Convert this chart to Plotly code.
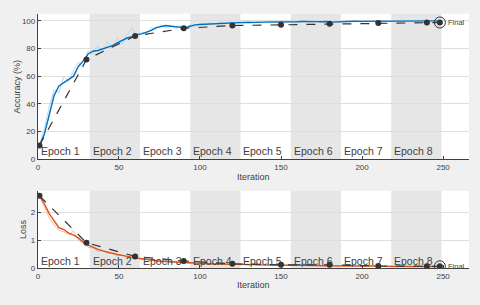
import plotly.graph_objects as go

# ---------------- data ----------------
iters = [1, 4, 7, 10, 13, 16, 19, 22, 25, 28, 31, 34, 37, 40, 43, 46, 49, 52, 55, 58,
         61, 64, 67, 70, 73, 76, 79, 82, 85, 88, 91, 94, 97, 100, 103, 106, 109, 112, 115, 118,
         121, 124, 127, 130, 133, 136, 139, 142, 145, 148, 151, 154, 157, 160, 163, 166, 169, 172, 175, 178,
         181, 184, 187, 190, 193, 196, 199, 202, 205, 208, 211, 214, 217, 220, 223, 226, 229, 232, 235, 238,
         241, 244, 247, 248]

acc_smooth = [10, 18, 32, 46, 53, 55.5, 58, 60, 67, 71, 76, 78, 78.5, 79.5, 81, 82, 84, 86, 87.5, 88.5,
              90, 90.5, 91.5, 93, 95, 96, 96.5, 96, 95.5, 95, 95, 96, 97, 97.3, 97.5, 97.5, 98, 98, 98.5, 98.5,
              98.7, 98.6, 98.8, 98.7, 99, 98.8, 99, 99, 99.2, 98.8, 99, 99.2, 99.3, 99.2, 99.4, 99.5, 99.4, 99.3, 99.2, 99.4,
              99, 99.2, 99.3, 99.4, 99.5, 99.6, 99.5, 99.5, 99.6, 99.7, 99.6, 99.6, 99.7, 99.7, 99.8, 99.7, 99.8, 99.8, 99.8, 99.8,
              99.9, 99.9, 99.9, 99.9]

acc_raw = [10, 22, 38, 50, 48, 60, 56, 64, 70, 66, 78, 76, 82, 77, 85, 80, 87, 83, 90, 95,
           88, 92, 90, 95, 94, 97, 95, 97, 94, 96, 94, 97, 96, 98, 97, 98.5, 97.5, 99, 98, 99,
           98, 99, 98.5, 99.5, 98.5, 99.5, 98.5, 99.5, 99, 98.5, 99.5, 99, 100, 99, 100, 99.5, 99, 99.5, 99, 100,
           98.5, 99.5, 99, 100, 99.5, 100, 99, 100, 99.5, 100, 99.5, 100, 99.5, 100, 100, 99.5, 100, 100, 99.5, 100,
           100, 100, 100, 100]

loss_smooth = [2.58, 2.3, 1.95, 1.68, 1.45, 1.38, 1.25, 1.18, 1.08, 0.93, 0.82, 0.75, 0.67, 0.62, 0.57, 0.53, 0.49, 0.46, 0.42, 0.39,
               0.36, 0.34, 0.31, 0.29, 0.27, 0.25, 0.24, 0.23, 0.21, 0.2, 0.19, 0.18, 0.17, 0.17, 0.16, 0.16, 0.15, 0.15, 0.15, 0.14,
               0.14, 0.14, 0.13, 0.13, 0.13, 0.12, 0.12, 0.12, 0.12, 0.11, 0.11, 0.11, 0.11, 0.1, 0.1, 0.1, 0.1, 0.1, 0.09, 0.09,
               0.1, 0.09, 0.09, 0.09, 0.08, 0.08, 0.08, 0.08, 0.08, 0.08, 0.07, 0.07, 0.07, 0.07, 0.07, 0.07, 0.06, 0.06, 0.06, 0.06,
               0.06, 0.06, 0.06, 0.06]

loss_raw = [2.58, 2.2, 1.8, 1.55, 1.35, 1.3, 1.2, 1.32, 1.0, 0.9, 0.75, 0.72, 0.6, 0.64, 0.52, 0.55, 0.45, 0.48, 0.38, 0.36,
            0.38, 0.3, 0.33, 0.26, 0.28, 0.22, 0.26, 0.2, 0.23, 0.18, 0.21, 0.16, 0.18, 0.15, 0.17, 0.14, 0.16, 0.13, 0.16, 0.12,
            0.15, 0.12, 0.14, 0.11, 0.14, 0.11, 0.13, 0.1, 0.13, 0.1, 0.12, 0.1, 0.12, 0.09, 0.11, 0.09, 0.11, 0.09, 0.1, 0.08,
            0.11, 0.08, 0.1, 0.08, 0.09, 0.07, 0.09, 0.07, 0.09, 0.07, 0.08, 0.06, 0.08, 0.06, 0.08, 0.06, 0.07, 0.05, 0.07, 0.05,
            0.07, 0.05, 0.06, 0.06]

val_iters = [1, 30, 60, 90, 120, 150, 180, 210, 240, 248]
val_acc = [10, 72, 89, 94.5, 96.5, 97, 97.8, 98.4, 98.7, 98.7]
val_loss = [2.58, 0.91, 0.42, 0.26, 0.16, 0.12, 0.12, 0.08, 0.07, 0.07]

epoch_starts = [0, 32, 63, 94, 125, 156, 187, 218]
epoch_ends = [32, 63, 94, 125, 156, 187, 218, 249]
epoch_labels = ["Epoch 1", "Epoch 2", "Epoch 3", "Epoch 4", "Epoch 5", "Epoch 6", "Epoch 7", "Epoch 8"]

final_iter = 248
final_label = "Final"

# ---------------- figure ----------------
FONT = "Liberation Sans, Arial, sans-serif"
TXT = "#404040"
BLUE = "#0072BD"
ORANGE = "#D95319"
DARK = "#333333"

fig = go.Figure()

# accuracy
fig.add_trace(go.Scatter(x=iters, y=acc_raw, mode="lines", line=dict(color="#B9D7EE", width=1),
                         xaxis="x", yaxis="y", hoverinfo="skip"))
fig.add_trace(go.Scatter(x=iters, y=acc_smooth, mode="lines", line=dict(color=BLUE, width=1.4),
                         xaxis="x", yaxis="y"))
fig.add_trace(go.Scatter(x=val_iters, y=val_acc, mode="lines+markers",
                         line=dict(color=DARK, width=1.2, dash="dash"),
                         marker=dict(color=DARK, size=6), xaxis="x", yaxis="y"))
fig.add_trace(go.Scatter(x=[final_iter], y=[val_acc[-1]], mode="markers",
                         marker=dict(symbol="circle-open", color=DARK, size=11, line=dict(width=1)),
                         xaxis="x", yaxis="y"))

# loss
fig.add_trace(go.Scatter(x=iters, y=loss_raw, mode="lines", line=dict(color="#F2B9A0", width=1),
                         xaxis="x2", yaxis="y2", hoverinfo="skip"))
fig.add_trace(go.Scatter(x=iters, y=loss_smooth, mode="lines", line=dict(color=ORANGE, width=1.4),
                         xaxis="x2", yaxis="y2"))
fig.add_trace(go.Scatter(x=val_iters, y=val_loss, mode="lines+markers",
                         line=dict(color=DARK, width=1.2, dash="dash"),
                         marker=dict(color=DARK, size=6), xaxis="x2", yaxis="y2"))
fig.add_trace(go.Scatter(x=[final_iter], y=[val_loss[-1]], mode="markers",
                         marker=dict(symbol="circle-open", color=DARK, size=11, line=dict(width=1)),
                         xaxis="x2", yaxis="y2"))

shapes = []
annotations = []
for i, (s, e, lab) in enumerate(zip(epoch_starts, epoch_ends, epoch_labels)):
    if i % 2 == 1:
        for xr, yr in (("x", "y domain"), ("x2", "y2 domain")):
            shapes.append(dict(type="rect", xref=xr, yref=yr, x0=s, x1=e, y0=0, y1=1,
                               fillcolor="#E6E6E6", line=dict(width=0), layer="below"))
    annotations.append(dict(x=s, y=0.06, xref="x", yref="y domain", text=lab, showarrow=False,
                            xanchor="left", yanchor="middle", xshift=1,
                            font=dict(family=FONT, size=10.5, color=TXT)))
    annotations.append(dict(x=s, y=0.09, xref="x2", yref="y2 domain", text=lab, showarrow=False,
                            xanchor="left", yanchor="middle", xshift=1,
                            font=dict(family=FONT, size=10.5, color=TXT)))

annotations.append(dict(x=final_iter, y=val_acc[-1], xref="x", yref="y", text=final_label, showarrow=False,
                        xanchor="left", yanchor="middle", xshift=6,
                        font=dict(family=FONT, size=7.5, color=TXT)))
annotations.append(dict(x=final_iter, y=val_loss[-1], xref="x2", yref="y2", text=final_label, showarrow=False,
                        xanchor="left", yanchor="middle", xshift=6,
                        font=dict(family=FONT, size=7.5, color=TXT)))

# axis titles
annotations.append(dict(x=15 / 480, y=(305 - 88) / 305, xref="paper", yref="paper", text="Accuracy (%)",
                        textangle=-90, showarrow=False, xanchor="center", yanchor="middle",
                        font=dict(family=FONT, size=9, color=TXT)))
annotations.append(dict(x=21 / 480, y=(305 - 233) / 305, xref="paper", yref="paper", text="Loss",
                        textangle=-90, showarrow=False, xanchor="center", yanchor="middle",
                        font=dict(family=FONT, size=9, color=TXT)))
annotations.append(dict(x=253 / 480, y=(305 - 180) / 305, xref="paper", yref="paper", text="Iteration",
                        showarrow=False, xanchor="center", yanchor="middle",
                        font=dict(family=FONT, size=9, color=TXT)))
annotations.append(dict(x=253 / 480, y=(305 - 290) / 305, xref="paper", yref="paper", text="Iteration",
                        showarrow=False, xanchor="center", yanchor="middle",
                        font=dict(family=FONT, size=9, color=TXT)))

xdom = [36 / 480, 469 / 480]
axis_common = dict(showline=True, linecolor=TXT, linewidth=1, ticks="inside", ticklen=3,
                   tickcolor=TXT, tickfont=dict(family=FONT, size=8, color=TXT), zeroline=False)

fig.update_layout(
    width=480, height=305,
    margin=dict(l=0, r=0, t=0, b=0),
    paper_bgcolor="#F0F0F0", plot_bgcolor="white",
    showlegend=False,
    shapes=shapes, annotations=annotations,
    xaxis=dict(domain=xdom, range=[0, 266], tickvals=[0, 50, 100, 150, 200, 250], showgrid=False,
               anchor="y", **axis_common),
    yaxis=dict(domain=[143 / 305, 291 / 305], range=[0, 105], tickvals=[0, 20, 40, 60, 80, 100],
               showgrid=True, gridcolor="#DEDEDE", gridwidth=1, anchor="x", **axis_common),
    xaxis2=dict(domain=xdom, range=[0, 266], tickvals=[0, 50, 100, 150, 200, 250], showgrid=False,
                anchor="y2", **axis_common),
    yaxis2=dict(domain=[32.3 / 305, 111 / 305], range=[0, 2.76], tickvals=[0, 1, 2],
                showgrid=True, gridcolor="#DEDEDE", gridwidth=1, anchor="x2", **axis_common),
)

fig.write_html("out.html", config={"displayModeBar": False},
               post_script="document.body.style.margin='0px';document.body.style.overflow='hidden';")
